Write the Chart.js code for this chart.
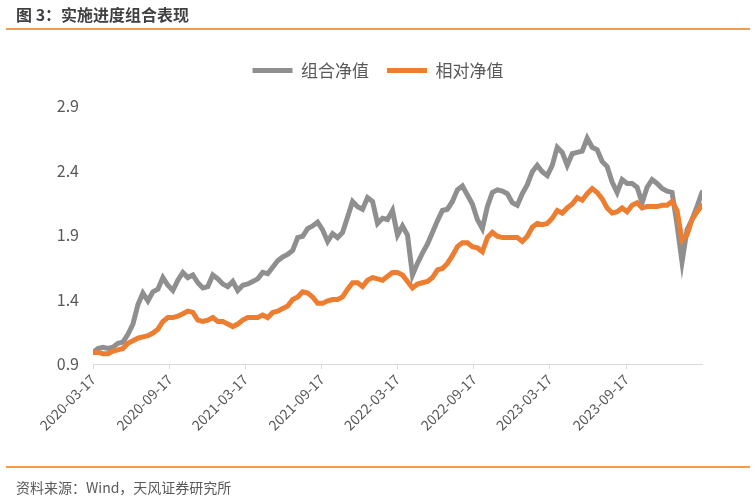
<!DOCTYPE html>
<html>
<head>
<meta charset="utf-8">
<script src="https://cdn.jsdelivr.net/npm/chart.js@4"></script>
<style>
  html, body { margin: 0; padding: 0; background: #fff; }
  #wrap { position: relative; width: 755px; height: 497px; overflow: hidden; font-family: "Noto Sans CJK SC", "Noto Sans", sans-serif; }
  #title { position: absolute; left: 16px; top: 3px; font-size: 16px; line-height: 22px; font-weight: bold; color: #404040; }
  .rule { position: absolute; left: 6px; width: 744px; height: 2px; background: #f29b4c; }
  #source { position: absolute; left: 16px; top: 477px; font-size: 14px; line-height: 20px; color: #595959; }
  canvas { position: absolute; left: 0; top: 0; }
</style>
</head>
<body>
<div id="wrap">
  <canvas id="chart" width="755" height="497"></canvas>
  <div id="title">图 3：实施进度组合表现</div>
  <div class="rule" style="top:28px"></div>
  <div class="rule" style="top:466px"></div>
  <div id="source">资料来源：Wind，天风证券研究所</div>
</div>
<script>
// Series names
const seriesNames = ['组合净值', '相对净值'];

// Date range covered by the samples (evenly spaced)
const startDate = '2020-03-17';
const endDate = '2024-03-17';

// X-axis tick labels
const tickDates = ['2020-03-17', '2020-09-17', '2021-03-17', '2021-09-17',
  '2022-03-17', '2022-09-17', '2023-03-17', '2023-09-17'];

// Y-axis range
const yMin = 0.9, yMax = 2.9, yStep = 0.5;

// 组合净值
const portfolio = [
  0.99, 1.02, 1.03, 1.02, 1.03, 1.06, 1.07, 1.13, 1.21, 1.36,
  1.45, 1.39, 1.46, 1.48, 1.57, 1.51, 1.47, 1.55, 1.61, 1.57,
  1.59, 1.53, 1.49, 1.50, 1.59, 1.56, 1.52, 1.50, 1.54, 1.47,
  1.51, 1.52, 1.54, 1.56, 1.61, 1.60, 1.65, 1.70, 1.73, 1.75,
  1.78, 1.88, 1.89, 1.95, 1.97, 2.00, 1.94, 1.85, 1.91, 1.88,
  1.92, 2.04, 2.16, 2.12, 2.10, 2.19, 2.16, 1.99, 2.03, 2.02,
  2.09, 1.90, 1.97, 1.90, 1.59, 1.68, 1.76, 1.83, 1.92, 2.01,
  2.09, 2.10, 2.16, 2.25, 2.28, 2.21, 2.14, 2.02, 1.95, 2.12,
  2.23, 2.25, 2.24, 2.22, 2.15, 2.13, 2.22, 2.29, 2.39, 2.44,
  2.39, 2.36, 2.44, 2.58, 2.54, 2.44, 2.53, 2.54, 2.55, 2.65,
  2.58, 2.56, 2.47, 2.43, 2.31, 2.23, 2.33, 2.30, 2.30, 2.27,
  2.15, 2.27, 2.33, 2.30, 2.26, 2.24, 2.23, 1.98, 1.69, 1.94,
  2.02, 2.12, 2.23
];

// 相对净值
const relative = [
  0.99, 0.99, 0.98, 0.98, 1.00, 1.01, 1.02, 1.06, 1.08, 1.10,
  1.11, 1.12, 1.14, 1.17, 1.23, 1.26, 1.26, 1.27, 1.29, 1.31,
  1.30, 1.24, 1.23, 1.24, 1.26, 1.23, 1.23, 1.21, 1.19, 1.21,
  1.24, 1.26, 1.26, 1.26, 1.28, 1.26, 1.30, 1.31, 1.33, 1.35,
  1.40, 1.42, 1.46, 1.45, 1.42, 1.37, 1.37, 1.39, 1.40, 1.40,
  1.42, 1.48, 1.53, 1.53, 1.50, 1.55, 1.57, 1.56, 1.55, 1.58,
  1.61, 1.61, 1.59, 1.54, 1.49, 1.52, 1.53, 1.54, 1.57, 1.63,
  1.64, 1.68, 1.74, 1.81, 1.84, 1.84, 1.81, 1.80, 1.77, 1.88,
  1.92, 1.89, 1.88, 1.88, 1.88, 1.88, 1.85, 1.89, 1.96, 1.99,
  1.98, 1.99, 2.03, 2.09, 2.07, 2.11, 2.14, 2.19, 2.17, 2.22,
  2.26, 2.23, 2.18, 2.11, 2.07, 2.08, 2.11, 2.08, 2.13, 2.15,
  2.11, 2.12, 2.12, 2.12, 2.13, 2.13, 2.16, 2.09, 1.86, 1.90,
  2.02, 2.08, 2.13
];

const DAY = 86400000;
const dayOf = (s) => Math.round((Date.parse(s) - Date.parse(startDate)) / DAY);
const totalDays = dayOf(endDate);
const toPoints = (arr) => arr.map((v, i) => ({ x: i * totalDays / (arr.length - 1), y: v }));
const tickDays = tickDates.map(dayOf);

const textColor = '#595959';
const axisColor = '#d9d9d9';
const font = '"Noto Sans CJK SC", "Noto Sans", sans-serif';

// extra room under the legend, and nudge it right to sit over the plot
const legendTweak = {
  id: 'legendTweak',
  beforeInit(chart) {
    const lg = chart.legend;
    if (!lg) return;
    const fit = lg.fit;
    lg.fit = function () { fit.call(this); this.height += 17; };
  },
  afterLayout(chart) {
    if (!chart.legend) return;
    chart.legend.left += 27;
    chart.legend.right += 27;
  },
};

new Chart(document.getElementById('chart'), {
  type: 'line',
  data: {
    datasets: [
      {
        label: seriesNames[0],
        data: toPoints(portfolio),
        borderColor: '#8f8f8f',
        backgroundColor: '#8f8f8f',
        borderWidth: 5,
        borderCapStyle: 'round',
        pointRadius: 0,
        tension: 0,
        order: 1,
      },
      {
        label: seriesNames[1],
        data: toPoints(relative),
        borderColor: '#ed7d31',
        backgroundColor: '#ed7d31',
        borderWidth: 5,
        borderCapStyle: 'round',
        pointRadius: 0,
        tension: 0,
        order: 0,
      },
    ],
  },
  options: {
    responsive: false,
    animation: false,
    layout: { padding: { top: 44, right: 53, left: 0, bottom: 0 } },
    plugins: {
      legend: {
        position: 'top',
        labels: {
          usePointStyle: true,
          pointStyle: 'line',
          pointStyleWidth: 40,
          color: textColor,
          font: { family: font, size: 17 },
          padding: 18,
          sort: (a, b) => a.datasetIndex - b.datasetIndex,
        },
      },
      tooltip: { enabled: false },
    },
    scales: {
      x: {
        type: 'linear',
        min: 0,
        max: totalDays,
        afterBuildTicks: (scale) => { scale.ticks = tickDays.map((v) => ({ value: v })); },
        afterFit: (scale) => { scale.height = 133; },
        ticks: {
          autoSkip: false,
          maxRotation: 45,
          minRotation: 45,
          color: textColor,
          font: { family: font, size: 14 },
          padding: 2,
          callback: (v) => tickDates[tickDays.indexOf(v)] || '',
        },
        grid: { drawOnChartArea: false, drawTicks: true, tickLength: 5, color: axisColor },
        border: { display: true, color: axisColor, width: 1 },
      },
      y: {
        min: yMin,
        max: yMax,
        afterFit: (scale) => { scale.width = 93; },
        ticks: {
          stepSize: yStep,
          color: textColor,
          font: { family: font, size: 16 },
          padding: 14,
          callback: (v) => Number(v).toFixed(1),
        },
        grid: { display: false, drawTicks: false },
        border: { display: false },
      },
    },
  },
  plugins: [legendTweak],
});
</script>
</body>
</html>
